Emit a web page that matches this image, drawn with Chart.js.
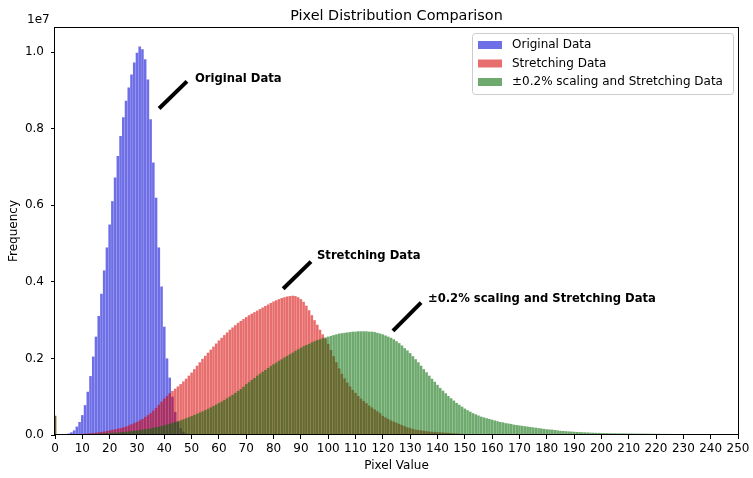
<!DOCTYPE html>
<html>
<head>
<meta charset="utf-8">
<script src="https://cdn.jsdelivr.net/npm/chart.js"></script>
<style>
html, body { margin: 0; padding: 0; background: #fff; }
</style>
</head>
<body>
<canvas id="chart-area" width="753" height="478"></canvas>
<script>
// frequencies per pixel value (index = pixel value), in units of 1e7
var originalData = [
  0, 0, 0.0005, 0.001, 0.002, 0.004, 0.007, 0.012, 0.022, 0.034,
  0.052, 0.078, 0.113, 0.154, 0.205, 0.257, 0.311, 0.369, 0.43, 0.49,
  0.55, 0.611, 0.673, 0.729, 0.781, 0.83, 0.873, 0.908, 0.942, 0.973,
  0.999, 1.015, 1.008, 0.982, 0.929, 0.825, 0.712, 0.62, 0.49, 0.388,
  0.283, 0.2, 0.15, 0.1, 0.06, 0.035, 0.018, 0.009, 0.004, 0.002,
  0.001
];

var stretchingData = [
  0.05, 0, 0, 0.0005, 0.0008, 0.001, 0.0012, 0.0015, 0.002, 0.0025,
  0.003, 0.0035, 0.004, 0.0045, 0.005, 0.006, 0.007, 0.008, 0.009, 0.0105,
  0.012, 0.0135, 0.015, 0.0165, 0.018, 0.02, 0.022, 0.025, 0.028, 0.031,
  0.034, 0.038, 0.042, 0.047, 0.052, 0.057, 0.064, 0.071, 0.079, 0.087,
  0.095, 0.102, 0.109, 0.115, 0.121, 0.127, 0.133, 0.14, 0.147, 0.155,
  0.163, 0.172, 0.181, 0.19, 0.199, 0.207, 0.215, 0.223, 0.231, 0.239,
  0.247, 0.254, 0.261, 0.268, 0.275, 0.281, 0.287, 0.293, 0.298, 0.303,
  0.308, 0.313, 0.317, 0.321, 0.325, 0.329, 0.333, 0.337, 0.341, 0.345,
  0.349, 0.352, 0.355, 0.358, 0.36, 0.362, 0.363, 0.364, 0.363, 0.36,
  0.355, 0.348, 0.338, 0.326, 0.313, 0.3, 0.288, 0.275, 0.263, 0.252,
  0.238, 0.222, 0.206, 0.19, 0.174, 0.16, 0.148, 0.137, 0.127, 0.118,
  0.11, 0.102, 0.095, 0.089, 0.083, 0.077, 0.072, 0.067, 0.062, 0.057,
  0.05, 0.046, 0.042, 0.038, 0.035, 0.032, 0.029, 0.026, 0.023, 0.02,
  0.018, 0.016, 0.014, 0.013, 0.012, 0.011, 0.01, 0.009, 0.0085, 0.008,
  0.0075, 0.007, 0.0065, 0.006, 0.0055, 0.005, 0.0045, 0.004, 0.0035, 0.003,
  0.0025, 0.0025, 0.002, 0.002, 0.0018, 0.0015, 0.0013, 0.0012, 0.001, 0.001,
  0.0008, 0.0007, 0.0006, 0.0005, 0.0004, 0.0003
];

var scaledData = [
  0.05, 0, 0, 0, 0.0003, 0.0005, 0.0007, 0.001, 0.0012, 0.0015,
  0.0018, 0.002, 0.0023, 0.0026, 0.003, 0.0033, 0.0036, 0.004, 0.0044, 0.0048,
  0.0052, 0.0057, 0.0062, 0.0068, 0.0074, 0.008, 0.0087, 0.0094, 0.0102, 0.011,
  0.012, 0.013, 0.014, 0.015, 0.0162, 0.0175, 0.019, 0.0205, 0.022, 0.0238,
  0.0256, 0.0275, 0.0295, 0.0315, 0.0337, 0.036, 0.0384, 0.041, 0.0437, 0.0465,
  0.0495, 0.0525, 0.0555, 0.0585, 0.0617, 0.065, 0.0685, 0.072, 0.0757, 0.0795,
  0.0835, 0.0875, 0.0917, 0.096, 0.1005, 0.105, 0.11, 0.115, 0.12, 0.126,
  0.133, 0.138, 0.144, 0.149, 0.155, 0.16, 0.165, 0.17, 0.175, 0.18,
  0.185, 0.189, 0.194, 0.198, 0.203, 0.207, 0.211, 0.215, 0.22, 0.224,
  0.228, 0.232, 0.235, 0.238, 0.242, 0.245, 0.248, 0.25, 0.253, 0.255,
  0.257, 0.259, 0.261, 0.263, 0.265, 0.266, 0.267, 0.268, 0.269, 0.27,
  0.27, 0.271, 0.271, 0.271, 0.271, 0.27, 0.27, 0.269, 0.267, 0.265,
  0.263, 0.26, 0.257, 0.254, 0.25, 0.245, 0.24, 0.234, 0.227, 0.221,
  0.214, 0.206, 0.198, 0.19, 0.181, 0.172, 0.164, 0.155, 0.147, 0.139,
  0.131, 0.123, 0.116, 0.109, 0.102, 0.096, 0.09, 0.084, 0.079, 0.074,
  0.069, 0.065, 0.061, 0.057, 0.054, 0.051, 0.048, 0.046, 0.044, 0.042,
  0.04, 0.038, 0.036, 0.034, 0.033, 0.031, 0.03, 0.029, 0.027, 0.026,
  0.025, 0.024, 0.023, 0.022, 0.021, 0.02, 0.019, 0.018, 0.017, 0.016,
  0.015, 0.0145, 0.014, 0.013, 0.012, 0.011, 0.0105, 0.01, 0.0095, 0.009,
  0.0085, 0.008, 0.0077, 0.0073, 0.007, 0.0067, 0.0063, 0.006, 0.0057, 0.0055,
  0.0052, 0.005, 0.0049, 0.0047, 0.0046, 0.0045, 0.0044, 0.0043, 0.0042, 0.0041,
  0.004, 0.004, 0.0039, 0.0038, 0.0037, 0.0036, 0.0035, 0.0035, 0.0034, 0.0033,
  0.0032, 0.0031, 0.003, 0.003, 0.0029, 0.0028, 0.0027, 0.0026
];

var seriesNames   = ['Original Data', 'Stretching Data', '\u00b10.2% scaling and Stretching Data'];
var seriesColors  = ['rgba(0,0,211,0.57)', 'rgba(215,0,0,0.57)', 'rgba(0,106,0,0.57)'];
var chartTitle    = 'Pixel Distribution Comparison';
var xAxisLabel    = 'Pixel Value';
var yAxisLabel    = 'Frequency';
var yOffsetLabel  = '1e7';

var FONT = "'DejaVu Sans', sans-serif";

function toPoints(arr) {
    var pts = [];
    arr.forEach(function (v, i) { pts.push({x: i, y: v}); });
    return pts;
}

// title, axis labels, frame, legend box and arrow notes
var decorations = {
    id: 'decorations',
    afterDraw: function (chart, args, opts) {
        var ctx = chart.ctx;
        var a = chart.chartArea;
        var xs = chart.scales.x, ys = chart.scales.y;
        ctx.save();

        // frame
        ctx.strokeStyle = '#000';
        ctx.lineWidth = 1;
        ctx.strokeRect(Math.round(a.left) - 0.5, Math.round(a.top) + 0.5,
                       Math.round(a.right - a.left) + 1, Math.round(a.bottom - a.top) - 1);

        ctx.fillStyle = '#000';
        ctx.textBaseline = 'middle';
        ctx.textAlign = 'center';
        ctx.font = '14.4px ' + FONT;
        ctx.fillText(chartTitle, (a.left + a.right) / 2, 16.5);

        ctx.font = '12px ' + FONT;
        ctx.fillText(xAxisLabel, (a.left + a.right) / 2, 466);
        ctx.save();
        ctx.translate(14, (a.top + a.bottom) / 2);
        ctx.rotate(-Math.PI / 2);
        ctx.fillText(yAxisLabel, 0, 0);
        ctx.restore();
        ctx.textAlign = 'left';
        ctx.fillText(yOffsetLabel, 27, 20);

        // notes with thick pointers
        opts.notes.forEach(function (n, i) {
            ctx.beginPath();
            ctx.lineWidth = 4;
            ctx.lineCap = 'butt';
            ctx.strokeStyle = '#000';
            ctx.moveTo(xs.getPixelForValue(n.from[0]), ys.getPixelForValue(n.from[1]));
            ctx.lineTo(xs.getPixelForValue(n.to[0]), ys.getPixelForValue(n.to[1]));
            ctx.stroke();
            ctx.font = 'bold 11.6px ' + FONT;
            ctx.textAlign = 'left';
            ctx.fillText(seriesNames[i], xs.getPixelForValue(n.text[0]), ys.getPixelForValue(n.text[1]));
        });

        // legend
        var L = opts.legend;
        ctx.fillStyle = 'rgba(255,255,255,0.8)';
        ctx.strokeStyle = '#cccccc';
        ctx.lineWidth = 1;
        ctx.beginPath();
        ctx.roundRect(L.x + 0.5, L.y + 0.5, L.w, L.h, 3);
        ctx.fill();
        ctx.stroke();
        ctx.font = '12px ' + FONT;
        ctx.textAlign = 'left';
        seriesNames.forEach(function (name, i) {
            var cy = L.y + L.firstRow + i * L.rowGap;
            ctx.fillStyle = seriesColors[i];
            ctx.fillRect(L.x + 6, cy - 4, 24, 8);
            ctx.fillStyle = '#000';
            ctx.fillText(name, L.x + 40, cy);
        });

        ctx.restore();
    }
};

var tickFont = {family: FONT, size: 12};

var config = {
    type: 'bar',
    data: {
        datasets: [
            {label: seriesNames[0], data: toPoints(originalData), backgroundColor: seriesColors[0], order: 3},
            {label: seriesNames[1], data: toPoints(stretchingData), backgroundColor: seriesColors[1], order: 2},
            {label: seriesNames[2], data: toPoints(scaledData), backgroundColor: seriesColors[2], order: 1}
        ]
    },
    options: {
        responsive: false,
        animation: false,
        datasets: {bar: {grouped: false, barPercentage: 0.94, categoryPercentage: 1, borderWidth: 0}},
        layout: {padding: {left: 0, right: 15, top: 27, bottom: 0}},
        plugins: {
            legend: {display: false},
            title: {display: false},
            tooltip: {enabled: false},
            decorations: {
                legend: {x: 472, y: 33, w: 261, h: 61, firstRow: 12, rowGap: 18.5},
                notes: [
                    {text: [51.2, 0.930], from: [38.1, 0.853], to: [48.3, 0.924]},
                    {text: [95.9, 0.469], from: [83.5, 0.382], to: [93.7, 0.453]},
                    {text: [136.5, 0.355], from: [123.7, 0.272], to: [134.0, 0.346]}
                ]
            }
        },
        scales: {
            x: {
                type: 'linear', min: 0, max: 250, offset: false,
                grid: {display: true, offset: false, drawOnChartArea: false, tickLength: 4, tickColor: '#000'},
                border: {display: false},
                ticks: {stepSize: 10, autoSkip: false, maxRotation: 0, color: '#000', font: tickFont, padding: 3},
                afterFit: function (s) { s.height = 43; }
            },
            y: {
                min: 0, max: 1.066,
                grid: {display: true, drawOnChartArea: false, tickLength: 4, tickColor: '#000'},
                border: {display: false},
                ticks: {stepSize: 0.2, color: '#000', font: tickFont, padding: 7,
                        callback: function (v) { return v.toFixed(1); }},
                afterBuildTicks: function (s) {
                    s.ticks = s.ticks.filter(function (t) { return Math.abs(t.value * 5 - Math.round(t.value * 5)) < 1e-6; });
                },
                afterFit: function (s) { s.width = 55; }
            }
        }
    },
    plugins: [decorations]
};

var ctx = document.getElementById('chart-area').getContext('2d');
window.myChart = new Chart(ctx, config);
</script>
</body>
</html>
